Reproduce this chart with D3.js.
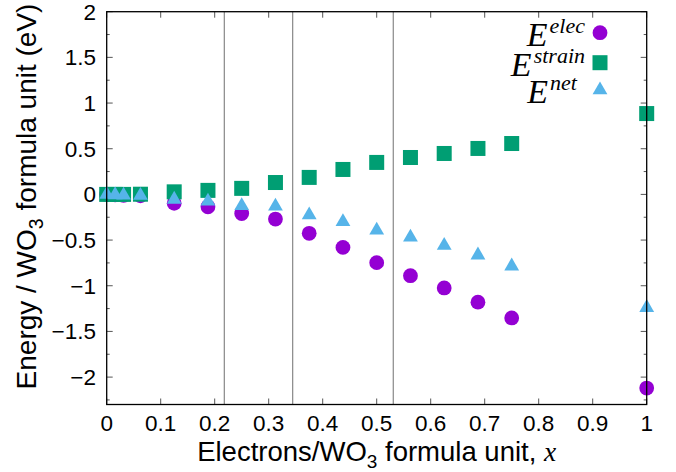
<!DOCTYPE html>
<html>
<head>
<meta charset="utf-8">
<script src="https://cdn.jsdelivr.net/npm/d3@7"></script>
<style>
  body { margin: 0; background: #fff; }
  text { font-family: "Liberation Sans", Arial, sans-serif; }
</style>
</head>
<body>
<div id="chart"></div>
<script>
// electron count per formula unit
var xs = [0, 0.015625, 0.03125, 0.0625, 0.125, 0.1875, 0.25, 0.3125, 0.375, 0.4375, 0.5, 0.5625, 0.625, 0.6875, 0.75, 1];
var eElec = [0, -0.005, -0.01, -0.015, -0.098, -0.135, -0.21, -0.27, -0.426, -0.58, -0.747, -0.89, -1.024, -1.18, -1.352, -2.12];
var eStrain = [0, 0, 0, 0.002, 0.028, 0.044, 0.066, 0.13, 0.186, 0.273, 0.35, 0.404, 0.448, 0.503, 0.557, 0.885];
var eNet = [0, -0.005, -0.01, -0.013, -0.055, -0.075, -0.125, -0.13, -0.225, -0.3, -0.392, -0.47, -0.56, -0.665, -0.785, -1.24];
// phase boundaries
var boundaries = [0.2178, 0.3444, 0.5307];
var xTicks = [0, 0.1, 0.2, 0.3, 0.4, 0.5, 0.6, 0.7, 0.8, 0.9, 1];
var yTicks = [-2, -1.5, -1, -0.5, 0, 0.5, 1, 1.5, 2];
var yMinor = [-2.25, -1.75, -1.25, -0.75, -0.25, 0.25, 0.75, 1.25, 1.75];

var W = 676, H = 472;
var pl = 106.7, pr = 646.7, pt = 11.7, pb = 404.5;

var x = d3.scaleLinear().domain([0, 1]).range([pl, pr]);
var y = d3.scaleLinear().domain([-2.3, 2]).range([pb, pt]);

var svg = d3.select("#chart").append("svg")
  .attr("width", W)
  .attr("height", H);

var purple = "#9400d3", green = "#009e73", blue = "#56b4e9";

// vertical boundary lines
svg.selectAll(".bnd")
  .data(boundaries)
  .enter()
  .append("line")
  .attr("x1", function (d) { return x(d); })
  .attr("x2", function (d) { return x(d); })
  .attr("y1", pt)
  .attr("y2", pb)
  .style("stroke", "#888")
  .style("stroke-width", 1.2);

// ticks on all four sides, pointing in
var ticks = svg.append("g").style("stroke", "#555").style("stroke-width", 1);
function tickLines(vals, len, vertical) {
  vals.forEach(function (v) {
    if (vertical) {
      ticks.append("line").attr("x1", x(v)).attr("x2", x(v)).attr("y1", pb).attr("y2", pb - len);
      ticks.append("line").attr("x1", x(v)).attr("x2", x(v)).attr("y1", pt).attr("y2", pt + len);
    } else {
      ticks.append("line").attr("y1", y(v)).attr("y2", y(v)).attr("x1", pl).attr("x2", pl + len);
      ticks.append("line").attr("y1", y(v)).attr("y2", y(v)).attr("x1", pr).attr("x2", pr - len);
    }
  });
}
tickLines(xTicks, 6, true);
tickLines(yTicks, 6, false);
tickLines(yMinor, 3, false);

// tick labels
svg.selectAll(".xl")
  .data(xTicks)
  .enter()
  .append("text")
  .attr("x", function (d) { return x(d); })
  .attr("y", 431)
  .attr("text-anchor", "middle")
  .style("font-size", "22.5px")
  .text(function (d) { return d; });

svg.selectAll(".yl")
  .data(yTicks)
  .enter()
  .append("text")
  .attr("x", 96)
  .attr("y", function (d) { return y(d) + 8; })
  .attr("text-anchor", "end")
  .style("font-size", "22.5px")
  .text(function (d) { return d < 0 ? "\u2212" + Math.abs(d) : d; });

// axis titles
var xt = svg.append("text")
  .attr("x", (pl + pr) / 2)
  .attr("y", 461)
  .attr("text-anchor", "middle")
  .style("font-size", "27.5px");
xt.append("tspan").text("Electrons/WO");
xt.append("tspan").attr("dy", 7).style("font-size", "19px").text("3");
xt.append("tspan").attr("dy", -7).text(" formula unit, ");
xt.append("tspan").style("font-family", "'Liberation Serif', serif").style("font-style", "italic").text("x");

var yt = svg.append("text")
  .attr("transform", "translate(36," + 196.5 + ") rotate(-90)")
  .attr("text-anchor", "middle")
  .style("font-size", "28px");
yt.append("tspan").text("Energy / WO");
yt.append("tspan").attr("dy", 7).style("font-size", "19.5px").text("3");
yt.append("tspan").attr("dy", -7).text(" formula unit (eV)");

// data points
var tri = d3.symbol().type(d3.symbolTriangle).size(95);

svg.selectAll(".elec")
  .data(xs)
  .enter()
  .append("circle")
  .attr("cx", function (d) { return x(d); })
  .attr("cy", function (d, i) { return y(eElec[i]); })
  .attr("r", 7.4)
  .style("fill", purple);

svg.selectAll(".strain")
  .data(xs)
  .enter()
  .append("rect")
  .attr("x", function (d) { return x(d) - 7.5; })
  .attr("y", function (d, i) { return y(eStrain[i]) - 7.5; })
  .attr("width", 15)
  .attr("height", 15)
  .style("fill", green);

svg.selectAll(".net")
  .data(xs)
  .enter()
  .append("path")
  .attr("d", tri)
  .attr("transform", function (d, i) { return "translate(" + x(d) + "," + y(eNet[i]) + ")"; })
  .style("fill", blue);

// border
svg.append("rect")
  .attr("x", pl)
  .attr("y", pt)
  .attr("width", pr - pl)
  .attr("height", pb - pt)
  .style("fill", "none")
  .style("stroke", "#000")
  .style("stroke-width", 1.3);

// legend
var legend = [
  { sup: "elec", end: 585, cy: 32.7 },
  { sup: "strain", end: 585, cy: 62.7 },
  { sup: "net", end: 577, cy: 90 }
];
legend.forEach(function (l) {
  var t = svg.append("text")
    .attr("x", l.end)
    .attr("y", l.cy + 13)
    .attr("text-anchor", "end")
    .style("font-family", "'Liberation Serif', 'DejaVu Serif', serif")
    .style("font-style", "italic")
    .style("font-size", "34px");
  t.append("tspan").text("E");
  t.append("tspan").attr("dx", 2).attr("dy", -13).style("font-size", "22px").text(l.sup);
});
var lx = 600;
svg.append("rect").attr("x", lx - 7.5).attr("y", legend[1].cy - 7.5).attr("width", 15).attr("height", 15).style("fill", green);
svg.append("circle").attr("cx", lx).attr("cy", legend[0].cy).attr("r", 7.4).style("fill", purple);
svg.append("path").attr("d", tri).attr("transform", "translate(" + lx + "," + legend[2].cy + ")").style("fill", blue);
</script>
</body>
</html>
